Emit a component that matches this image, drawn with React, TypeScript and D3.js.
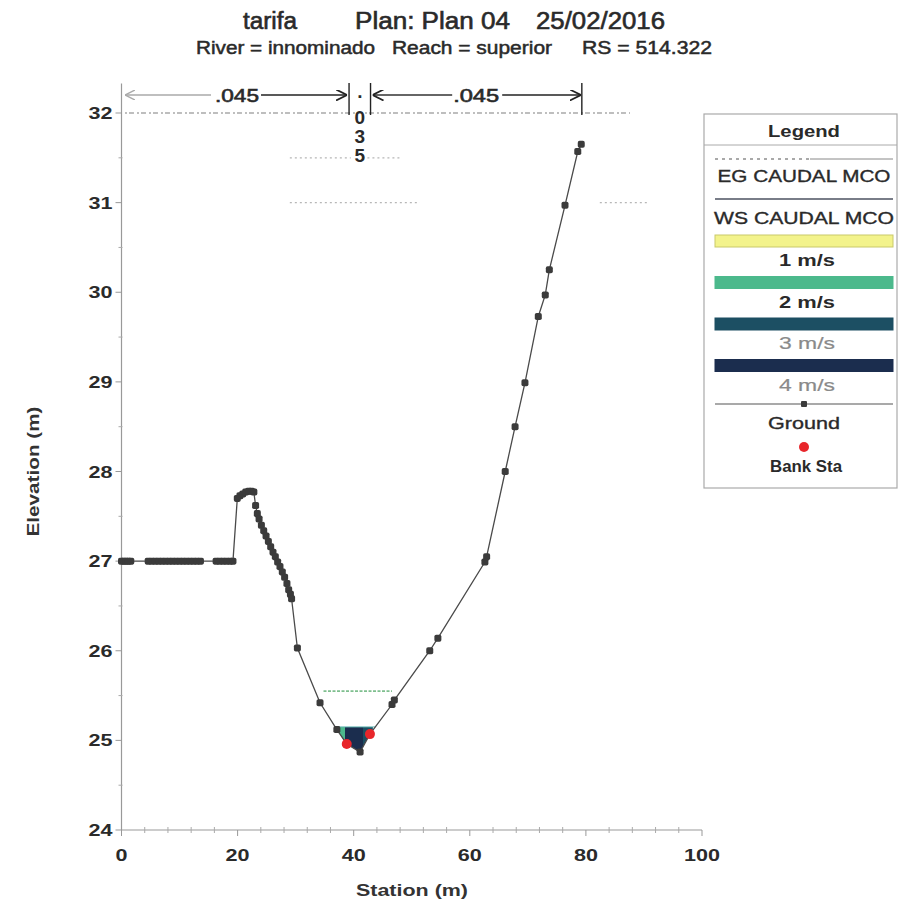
import React from 'react';
import * as d3 from 'd3';

// ---------- data ----------
const stationsLeftFlat = [0, 0.4, 0.8, 1.2, 1.6, 4.6, 5.2, 5.8, 6.4, 7.0, 7.6, 8.2, 8.8, 9.4, 10.0, 10.6, 11.2, 11.8, 12.4, 13.0, 13.6, 16.3, 16.9, 17.5, 18.1, 18.7, 19.2];
const elevLeftFlat = [27, 27, 27, 27, 27, 27, 27, 27, 27, 27, 27, 27, 27, 27, 27, 27, 27, 27, 27, 27, 27, 27, 27, 27, 27, 27, 27];
const stationsPeak = [19.95, 20.4, 20.9, 21.4, 21.9, 22.4, 22.8, 23.1, 23.4, 23.7, 24.1, 24.5, 24.9, 25.3, 25.7, 26.1, 26.5, 26.9, 27.3, 27.7, 28.1, 28.5, 28.8, 29.1, 29.3];
const elevPeak = [27.70, 27.73, 27.75, 27.77, 27.78, 27.78, 27.77, 27.62, 27.53, 27.47, 27.40, 27.34, 27.28, 27.22, 27.16, 27.10, 27.05, 26.99, 26.94, 26.88, 26.82, 26.75, 26.68, 26.63, 26.58];
const stationsChannel = [30.3, 34.2, 37.1, 38.8, 41.1, 42.8, 46.6, 47.0, 53.1, 54.5, 62.6, 62.9, 66.1, 67.8, 69.5, 71.8, 73.0, 73.7, 76.4, 78.6, 79.2];
const elevChannel = [26.03, 25.42, 25.12, 24.96, 24.87, 25.07, 25.40, 25.45, 26.00, 26.14, 26.99, 27.05, 28.00, 28.50, 28.99, 29.73, 29.97, 30.25, 30.97, 31.57, 31.65];

const groundStation = [...stationsLeftFlat, ...stationsPeak, ...stationsChannel];
const groundElevation = [...elevLeftFlat, ...elevPeak, ...elevChannel];

const bankStation = [38.8, 42.8];
const bankElevation = [24.96, 25.07];

const wsElevation = 25.15;
const egElevation = 25.55;
const egStation = [34.8, 46.6];

const velocityBreaks = [36.8, 38.5, 41.6, 43.3];
const velocityClass = [2, 4, 3];

const nStations = [0.6, 39.2, 42.9, 79.3];
const nValues = ['.045', '.035', '.045'];

const gridFragElev = [32, 31.5, 31.5, 31, 31];
const gridFragFrom = [0.6, 29.0, 41.5, 29.0, 82.4];
const gridFragTo = [87.6, 39.5, 48.0, 51.4, 90.7];

const xTicks = [0, 20, 40, 60, 80, 100];
const xMinor = [4, 8, 12, 16, 24, 28, 32, 36, 44, 48, 52, 56, 64, 68, 72, 76, 84, 88, 92, 96];
const yTicks = [24, 25, 26, 27, 28, 29, 30, 31, 32];
const yMinor = [24.5, 25.5, 26.5, 27.5, 28.5, 29.5, 30.5, 31.5];

const velocityColor: Record<number, string> = { 1: '#f3f38c', 2: '#4cb98c', 3: '#1c4f63', 4: '#1b2d4e' };
const legendVelocity = [1, 2, 3, 4];
const legendVelocityLabel = ['1 m/s', '2 m/s', '3 m/s', '4 m/s'];

const W = 899, H = 903;
const FONT = '"Liberation Sans", Arial, sans-serif';

type TP = { x: number; y: number; size: number; w?: number; anchor?: string; weight?: number; fill?: string; heavy?: number; children: React.ReactNode; transform?: string };
function T({ x, y, size, w, anchor = 'middle', weight = 400, fill = '#2a2a2a', heavy = 0.35, children, transform }: TP) {
  return (
    <text x={x} y={y} textAnchor={anchor} transform={transform}
      textLength={w} lengthAdjust={w ? 'spacingAndGlyphs' : undefined}
      style={{ fontFamily: FONT, fontSize: size, fontWeight: weight, fill, stroke: fill, strokeWidth: heavy }}>{children}</text>
  );
}

export default function App() {
  const x = d3.scaleLinear().domain([0, 100]).range([121.5, 702]);
  const y = d3.scaleLinear().domain([24, 32]).range([830, 113]);

  const ground = groundStation.map((s, i) => [s, groundElevation[i]] as [number, number]);
  const line = d3.line<[number, number]>().x(d => x(d[0])).y(d => y(d[1]));

  let iMin = 0;
  ground.forEach((p, i) => { if (p[1] < ground[iMin][1]) iMin = i; });
  let l = iMin; while (l > 0 && ground[l - 1][1] < wsElevation) l--;
  let r = iMin; while (r < ground.length - 1 && ground[r + 1][1] < wsElevation) r++;
  const cross = (a: [number, number], b: [number, number]) => {
    const t = (wsElevation - a[1]) / (b[1] - a[1]);
    return [a[0] + t * (b[0] - a[0]), wsElevation] as [number, number];
  };
  const waterPts: [number, number][] = [];
  if (l > 0) waterPts.push(cross(ground[l - 1], ground[l]));
  for (let i = l; i <= r; i++) waterPts.push(ground[i]);
  if (r < ground.length - 1) waterPts.push(cross(ground[r], ground[r + 1]));
  const waterPath = line(waterPts)! + 'Z';
  const wsFrom = waterPts[0][0], wsTo = waterPts[waterPts.length - 1][0];

  const arrowY = 95;
  const tickW = (t: number) => String(t).length * 12;

  const LX = 704, LW = 193, LC = 804;
  const barX0 = 715, barX1 = 893;

  return (
    <svg width={W} height={H} style={{ position: 'absolute', left: 0, top: 0, background: '#fff' }}>
      <defs>
        <marker id="ahR" viewBox="0 0 10 10" refX="10" refY="5" markerWidth="11" markerHeight="11" orient="auto" markerUnits="userSpaceOnUse">
          <path d="M0,0 L10,5 L0,10" fill="none" stroke="#222" strokeWidth="1.6" />
        </marker>
        <marker id="ahL" viewBox="0 0 10 10" refX="10" refY="5" markerWidth="10" markerHeight="10" orient="auto" markerUnits="userSpaceOnUse">
          <path d="M0,0 L10,5 L0,10" fill="none" stroke="#aaa" strokeWidth="1.4" />
        </marker>
        {velocityClass.map((_, i) => (
          <clipPath id={`vc${i}`} key={i}>
            <rect x={x(velocityBreaks[i])} y={0} width={x(velocityBreaks[i + 1]) - x(velocityBreaks[i])} height={H} />
          </clipPath>
        ))}
      </defs>

      {/* titles */}
      <T x={270} y={29} size={23} w={54} heavy={0.6}>tarifa</T>
      <T x={432.5} y={29} size={23} w={155} heavy={0.6}>Plan: Plan 04</T>
      <T x={600.5} y={29} size={23} w={129} heavy={0.6}>25/02/2016</T>
      <T x={285.5} y={54} size={18} w={179} heavy={0.5}>River = innominado</T>
      <T x={472} y={54} size={18} w={160} heavy={0.5}>Reach = superior</T>
      <T x={647} y={54} size={18} w={130} heavy={0.5}>RS = 514.322</T>

      {/* faint dotted fragments */}
      {gridFragElev.map((e, i) => (
        <line key={i} x1={x(gridFragFrom[i])} x2={x(gridFragTo[i])} y1={y(e)} y2={y(e)}
          stroke={i === 0 ? '#555' : '#888'} strokeWidth={1.2} strokeDasharray={i === 0 ? '2,2,5,3' : '2,3'} opacity={i === 0 ? 0.75 : 0.6} />
      ))}

      {/* axes */}
      <line x1={x(0)} x2={x(0)} y1={y(24)} y2={y(32.33)} stroke="#999" strokeWidth={1.2} />
      <line x1={x(0)} x2={x(100)} y1={y(24)} y2={y(24)} stroke="#999" strokeWidth={1.2} />
      {yTicks.map(t => (
        <g key={t}>
          <line x1={x(0) - 6} x2={x(0)} y1={y(t)} y2={y(t)} stroke="#999" />
          <T x={x(0) - 9} y={y(t) + 6} size={17} w={tickW(t)} anchor="end" weight={700} heavy={0}>{t}</T>
        </g>
      ))}
      {yMinor.map(t => <line key={t} x1={x(0) - 3} x2={x(0) + 1} y1={y(t)} y2={y(t)} stroke="#aaa" />)}
      {xTicks.map(t => (
        <g key={t}>
          <line x1={x(t)} x2={x(t)} y1={y(24)} y2={y(24) + 6} stroke="#999" />
          <T x={x(t)} y={y(24) + 31} size={17} w={tickW(t)} weight={700} heavy={0}>{t}</T>
        </g>
      ))}
      {xMinor.map(t => <line key={t} x1={x(t)} x2={x(t)} y1={y(24) - 3} y2={y(24) + 3} stroke="#aaa" />)}
      <T x={0} y={0} size={17} w={130} weight={700} fill="#333" heavy={0}
        transform={`translate(39,${(y(24) + y(32)) / 2}) rotate(-90)`}>Elevation (m)</T>
      <T x={412} y={896} size={17} w={112} weight={700} fill="#333" heavy={0}>Station (m)</T>

      {/* Manning n annotations */}
      {nStations.slice(1).map((s, i) => (
        <line key={i} x1={x(s)} x2={x(s)} y1={83} y2={115} stroke="#222" strokeWidth={1.4} />
      ))}
      {(() => {
        const a0 = x(nStations[0]), a1 = x(nStations[1]);
        const m = (a0 + a1) / 2;
        const b0 = x(nStations[2]), b1 = x(nStations[3]);
        const mb = (b0 + b1) / 2;
        const mc = (x(nStations[1]) + x(nStations[2])) / 2;
        return (
          <g>
            <line x1={m - 26} x2={a0} y1={arrowY} y2={arrowY} stroke="#aaa" strokeWidth={1.4} markerEnd="url(#ahL)" />
            <line x1={m + 24} x2={a1 - 2} y1={arrowY} y2={arrowY} stroke="#222" strokeWidth={1.6} markerEnd="url(#ahR)" />
            <T x={m} y={arrowY + 7} size={18} w={44} heavy={0.6}>{nValues[0]}</T>
            <line x1={mb - 24} x2={b0 + 2} y1={arrowY} y2={arrowY} stroke="#333" strokeWidth={1.4} markerEnd="url(#ahR)" />
            <line x1={mb + 26} x2={b1 - 1} y1={arrowY} y2={arrowY} stroke="#222" strokeWidth={1.6} markerEnd="url(#ahR)" />
            <T x={mb} y={arrowY + 7} size={18} w={46} heavy={0.6}>{nValues[2]}</T>
            {nValues[1].split('').map((c, k) => (
              <T key={k} x={mc} y={105 + k * 19 - (k === 0 ? 7 : 0)} size={19} weight={700} heavy={0}>{c}</T>
            ))}
          </g>
        );
      })()}

      {/* EG line */}
      <line x1={x(egStation[0])} x2={x(egStation[1])} y1={y(egElevation)} y2={y(egElevation)}
        stroke="#7fbf8f" strokeWidth={1.6} strokeDasharray="3,1.5" />

      {/* water by velocity */}
      {velocityClass.map((v, i) => (
        <path key={i} d={waterPath} fill={velocityColor[v]} clipPath={`url(#vc${i})`} />
      ))}
      <line x1={x(wsFrom)} x2={x(wsTo)} y1={y(wsElevation)} y2={y(wsElevation)} stroke="#5fb3b0" strokeWidth={1} />

      {/* ground */}
      <path d={line(ground)!} fill="none" stroke="#4a4a4a" strokeWidth={1.3} />
      {ground.map((p, i) => (
        <rect key={i} x={x(p[0]) - 3.5} y={y(p[1]) - 3.5} width={7} height={7} rx={1.8} fill="#3b3b3b" />
      ))}
      {bankStation.map((s, i) => (
        <circle key={i} cx={x(s)} cy={y(bankElevation[i])} r={5} fill="#e8262b" />
      ))}

      {/* legend */}
      <g>
        <rect x={LX} y={114} width={LW} height={374} fill="#fff" stroke="#aaa" strokeWidth={1.2} />
        <T x={LC} y={137} size={17} w={72} weight={700} heavy={0}>Legend</T>
        <line x1={LX} x2={LX + LW} y1={145} y2={145} stroke="#aaa" />
        <line x1={barX0} x2={barX0 + 95} y1={159} y2={159} stroke="#555" strokeWidth={1.2} strokeDasharray="3,4" />
        <line x1={barX0 + 95} x2={barX1} y1={159} y2={159} stroke="#888" strokeWidth={1} />
        <T x={LC} y={182} size={17} w={173}>EG CAUDAL MCO</T>
        <line x1={barX0} x2={barX1} y1={199} y2={199} stroke="#4d5260" strokeWidth={1.6} />
        <T x={LC} y={224} size={17} w={180}>WS CAUDAL MCO</T>
        {legendVelocity.map((v, i) => (
          <g key={v}>
            <rect x={barX0} y={235 + i * 41.5} width={barX1 - barX0} height={12} fill={velocityColor[v]}
              stroke={v === 1 ? '#c9c96a' : velocityColor[v]} strokeWidth={1} />
            <T x={LC + 3} y={266 + i * 41.5} size={17} w={56} heavy={v <= 2 ? 0 : 0.2}
              weight={v <= 2 ? 700 : 400} fill={v <= 2 ? '#2a2a2a' : '#8a8a8a'}>{legendVelocityLabel[i]}</T>
          </g>
        ))}
        <line x1={barX0} x2={barX1} y1={404} y2={404} stroke="#555" strokeWidth={1.2} />
        <rect x={LC - 3} y={401} width={6} height={6} rx={1} fill="#3b3b3b" />
        <T x={LC} y={429} size={17} w={72}>Ground</T>
        <circle cx={LC} cy={447} r={5} fill="#e8262b" />
        <T x={LC + 2} y={472} size={17} w={72} weight={700} heavy={0}>Bank Sta</T>
      </g>
    </svg>
  );
}
